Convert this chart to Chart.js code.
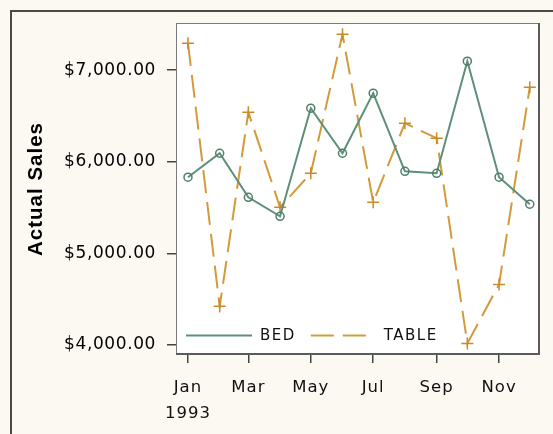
<!DOCTYPE html>
<html>
<head>
<meta charset="utf-8">
<script src="https://cdn.jsdelivr.net/npm/chart.js@4/dist/chart.umd.min.js"></script>
<style>
  html, body { margin: 0; padding: 0; background: #fcf9f3; }
  #wrap { position: absolute; left: 0; top: 0; width: 553px; height: 434px; }
</style>
</head>
<body>
<div id="wrap"><canvas id="c" width="553" height="434"></canvas></div>
<script>
// ---- data ----
const year = 1993;
const months = ['Jan','Feb','Mar','Apr','May','Jun','Jul','Aug','Sep','Oct','Nov','Dec'];
const bedSales   = [5831, 6093, 5612, 5404, 6585, 6093, 6749, 5896, 5874, 7098, 5831, 5536];
const tableSales = [7295, 4421, 6541, 5503, 5874, 7393, 5557, 6421, 6257, 4016, 4661, 6814];
const seriesNames = ['BED', 'TABLE'];
const yTickValues = [4000, 5000, 6000, 7000];
const xTickMonths = ['Jan','Mar','May','Jul','Sep','Nov'];

// day offset of the first of each month from Jan 1
const dayOf = m => Math.round((new Date(year, months.indexOf(m), 1) - new Date(year, 0, 1)) / 86400000);
const xs = months.map(dayOf);

const GREEN = '#5e8f78';
const ORANGE = '#d39a3a';
const FONT = 'DejaVu Sans';

const spacingPlugin = {
  id: 'spacing',
  beforeLayout(chart) { chart.ctx.letterSpacing = '1px'; },
  afterLayout(chart) {
    const y = chart.scales.y;
    if (!y._wrapped) {
      const orig = y.drawLabels.bind(y);
      y.drawLabels = function (area) {
        const ctx = this.ctx;
        const prev = ctx.letterSpacing;
        ctx.letterSpacing = '0.6px';
        orig(area);
        ctx.letterSpacing = prev;
      };
      y._wrapped = true;
    }
  },
  beforeDraw(chart) { chart.ctx.letterSpacing = '1px'; }
};

const framePlugin = {
  id: 'frame',
  beforeDraw(chart) {
    const ctx = chart.ctx;
    ctx.save();
    ctx.fillStyle = '#fcf9f3';
    ctx.fillRect(0, 0, chart.width, chart.height);
    // outer frame
    ctx.strokeStyle = '#4a4a4a';
    ctx.lineWidth = 2;
    ctx.beginPath();
    ctx.moveTo(11, chart.height);
    ctx.lineTo(11, 11);
    ctx.lineTo(chart.width, 11);
    ctx.stroke();
    // plot area
    const a = chart.chartArea;
    ctx.fillStyle = '#ffffff';
    ctx.fillRect(a.left, a.top, a.right - a.left, a.bottom - a.top);
    ctx.restore();
  },
  afterDatasetsDraw(chart) {
    const ctx = chart.ctx;
    const a = chart.chartArea;
    ctx.save();
    // plot border
    ctx.strokeStyle = '#7a7a7a';
    ctx.lineWidth = 1;
    ctx.strokeRect(a.left + 0.5, a.top + 0.5, a.right - a.left - 1, a.bottom - a.top - 1);
    ctx.strokeStyle = '#5a5a5a';
    ctx.lineWidth = 2;
    ctx.beginPath();
    ctx.moveTo(a.right - 1, a.top);
    ctx.lineTo(a.right - 1, a.bottom - 1);
    ctx.lineTo(a.left, a.bottom - 1);
    ctx.stroke();
    // legend
    const ly = a.bottom - 20;
    const ds = chart.data.datasets;
    ctx.font = '15px "' + FONT + '"';
    ctx.letterSpacing = '1.5px';
    ctx.textBaseline = 'middle';
    ctx.fillStyle = '#111';
    let x = a.left + 10;
    ds.forEach((d, i) => {
      ctx.strokeStyle = d.borderColor;
      ctx.lineWidth = 2;
      ctx.setLineDash(d.borderDash || []);
      ctx.beginPath();
      ctx.moveTo(x, ly + 0.5);
      ctx.lineTo(x + (i === 0 ? 66 : 60), ly + 0.5);
      ctx.stroke();
      ctx.setLineDash([]);
      const tx = x + (i === 0 ? 74 : 73);
      ctx.fillText(d.label, tx, ly + 1);
      x = tx + ctx.measureText(d.label).width + 15;
    });
    ctx.restore();
  }
};

new Chart(document.getElementById('c'), {
  type: 'line',
  data: {
    datasets: [
      {
        label: seriesNames[0],
        data: xs.map((x, i) => ({ x, y: bedSales[i] })),
        borderColor: GREEN,
        backgroundColor: 'rgba(0,0,0,0)',
        borderWidth: 2,
        pointStyle: 'circle',
        pointRadius: 4,
        pointBorderWidth: 1.5,
        pointBorderColor: '#4f7f68',
        pointBackgroundColor: 'rgba(255,255,255,0)',
        tension: 0
      },
      {
        label: seriesNames[1],
        data: xs.map((x, i) => ({ x, y: tableSales[i] })),
        borderColor: ORANGE,
        backgroundColor: 'rgba(0,0,0,0)',
        borderWidth: 2,
        borderDash: [23, 9],
        pointStyle: 'cross',
        pointRadius: 6,
        pointBorderWidth: 1.5,
        pointBorderColor: '#c98a2a',
        tension: 0
      }
    ]
  },
  options: {
    responsive: false,
    animation: false,
    devicePixelRatio: 1,
    layout: { padding: { top: 23, right: 13, left: 0, bottom: 0 } },
    plugins: { legend: { display: false }, tooltip: { enabled: false } },
    scales: {
      x: {
        type: 'linear',
        min: -11.7,
        max: 344,
        afterBuildTicks: s => { s.ticks = xTickMonths.map(m => ({ value: dayOf(m) })); },
        afterFit: s => { s.height = 79; },
        border: { display: false },
        grid: { drawOnChartArea: false, drawTicks: true, tickLength: 8, color: '#444', lineWidth: 1.5 },
        ticks: {
          autoSkip: false,
          maxRotation: 0,
          padding: 12,
          color: '#111',
          font: { family: FONT, size: 16.5, lineHeight: 1.55 },
          callback: v => {
            const d = new Date(year, 0, 1 + v);
            const m = months[d.getMonth()];
            return d.getMonth() === 0 ? [m, String(year)] : m;
          }
        }
      },
      y: {
        min: 3890,
        max: 7515,
        afterBuildTicks: s => { s.ticks = yTickValues.map(v => ({ value: v })); },
        afterFit: s => { s.width = 176; },
        border: { display: false },
        grid: { drawOnChartArea: false, drawTicks: true, tickLength: 9, color: '#444', lineWidth: 1.5 },
        title: {
          display: true,
          text: 'Actual Sales',
          color: '#000',
          font: { family: 'Liberation Sans', size: 20.5, weight: 'bold' },
          padding: { top: 24, bottom: 0 }
        },
        ticks: {
          padding: 11,
          color: '#000',
          font: { family: FONT, size: 17 },
          callback: v => '$' + v.toLocaleString('en-US', { minimumFractionDigits: 2, maximumFractionDigits: 2 })
        }
      }
    }
  },
  plugins: [spacingPlugin, framePlugin]
});
</script>
</body>
</html>
